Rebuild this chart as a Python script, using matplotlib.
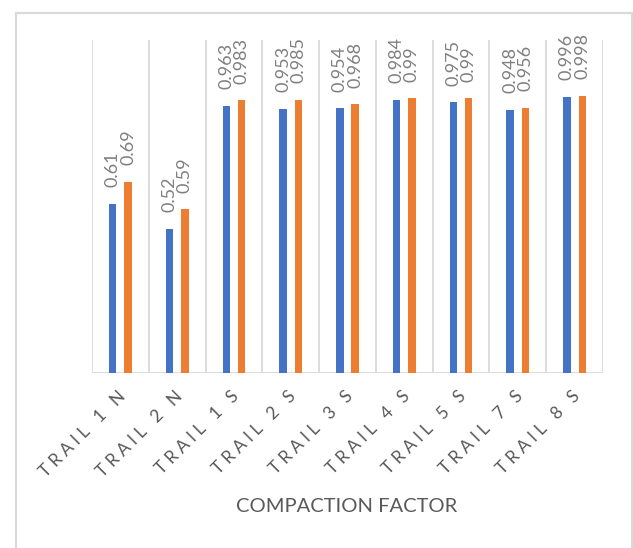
import matplotlib
matplotlib.use("Agg")
import matplotlib.pyplot as plt
from matplotlib.lines import Line2D
import numpy as np

categories = ["TRAIL 1 N", "TRAIL 2 N", "TRAIL 1 S", "TRAIL 2 S", "TRAIL 3 S",
              "TRAIL 4 S", "TRAIL 5 S", "TRAIL 7 S", "TRAIL 8 S"]
series_blue = [0.61, 0.52, 0.963, 0.953, 0.954, 0.984, 0.975, 0.948, 0.996]
series_orange = [0.69, 0.59, 0.983, 0.985, 0.968, 0.99, 0.99, 0.956, 0.998]
x_title = "COMPACTION FACTOR"

W, H, DPI = 633, 548, 100
plt.rcParams['font.family'] = ['Lato', 'DejaVu Sans']
fig = plt.figure(figsize=(W / DPI, H / DPI), dpi=DPI)

# plot area in pixel coords
left, right, top, bottom = 92, 603, 40, 373
ax = fig.add_axes([left / W, 1 - bottom / H, (right - left) / W, (bottom - top) / H])

n = len(categories)
x = np.arange(n)
bw = 0.13
off = 0.135
blue = "#4472C4"
orange = "#ED7D31"
ax.bar(x - off, series_blue, width=bw, color=blue, zorder=3)
ax.bar(x + off, series_orange, width=bw, color=orange, zorder=3)

ax.set_xlim(-0.5, n - 0.5)
ax.set_ylim(0, 1.2)

# vertical category gridlines
grid_c = "#d9d9d9"
for b in np.arange(-0.5, n, 1.0):
    ax.axvline(b, color=grid_c, lw=1.3, zorder=1)
ax.axhline(0, color=grid_c, lw=1.3, zorder=2)

for s in ax.spines.values():
    s.set_visible(False)
ax.set_yticks([])
ax.set_xticks(x)
ax.tick_params(axis='x', length=0, pad=0)

sp = "\u2005"
spaced = [sp.join(list(c)) for c in categories]
ax.set_xticklabels([])
for xi, lab in zip(x, spaced):
    ax.annotate(lab, xy=(xi, 0), xycoords='data', xytext=(2, -15),
                textcoords='offset points', rotation=45, rotation_mode='anchor',
                ha='right', va='center', fontsize=12.5, color="#595959")

lab_c = "#7f7f7f"
for xi, v in zip(x, series_blue):
    ax.annotate(f"{v:g}", xy=(xi - off, v), xytext=(0, 12), textcoords='offset points',
                rotation=90, ha='center', va='bottom', fontsize=13, color=lab_c)
for xi, v in zip(x, series_orange):
    ax.annotate(f"{v:g}", xy=(xi + off, v), xytext=(0, 12), textcoords='offset points',
                rotation=90, ha='center', va='bottom', fontsize=13, color=lab_c)

fig.text(347 / W, 1 - 507 / H, x_title, ha='center', va='center', fontsize=14.5, color="#595959")

# outer chart border
bc = "#d9d9d9"
fig.add_artist(Line2D([15.5 / W, 15.5 / W], [0, 1 - 13 / H], transform=fig.transFigure, color=bc, lw=1.5))
fig.add_artist(Line2D([15.5 / W, 631.5 / W], [1 - 13 / H, 1 - 13 / H], transform=fig.transFigure, color=bc, lw=1.5))
fig.add_artist(Line2D([631.5 / W, 631.5 / W], [0, 1 - 13 / H], transform=fig.transFigure, color=bc, lw=1.5))

fig.savefig("out.png", dpi=DPI)
